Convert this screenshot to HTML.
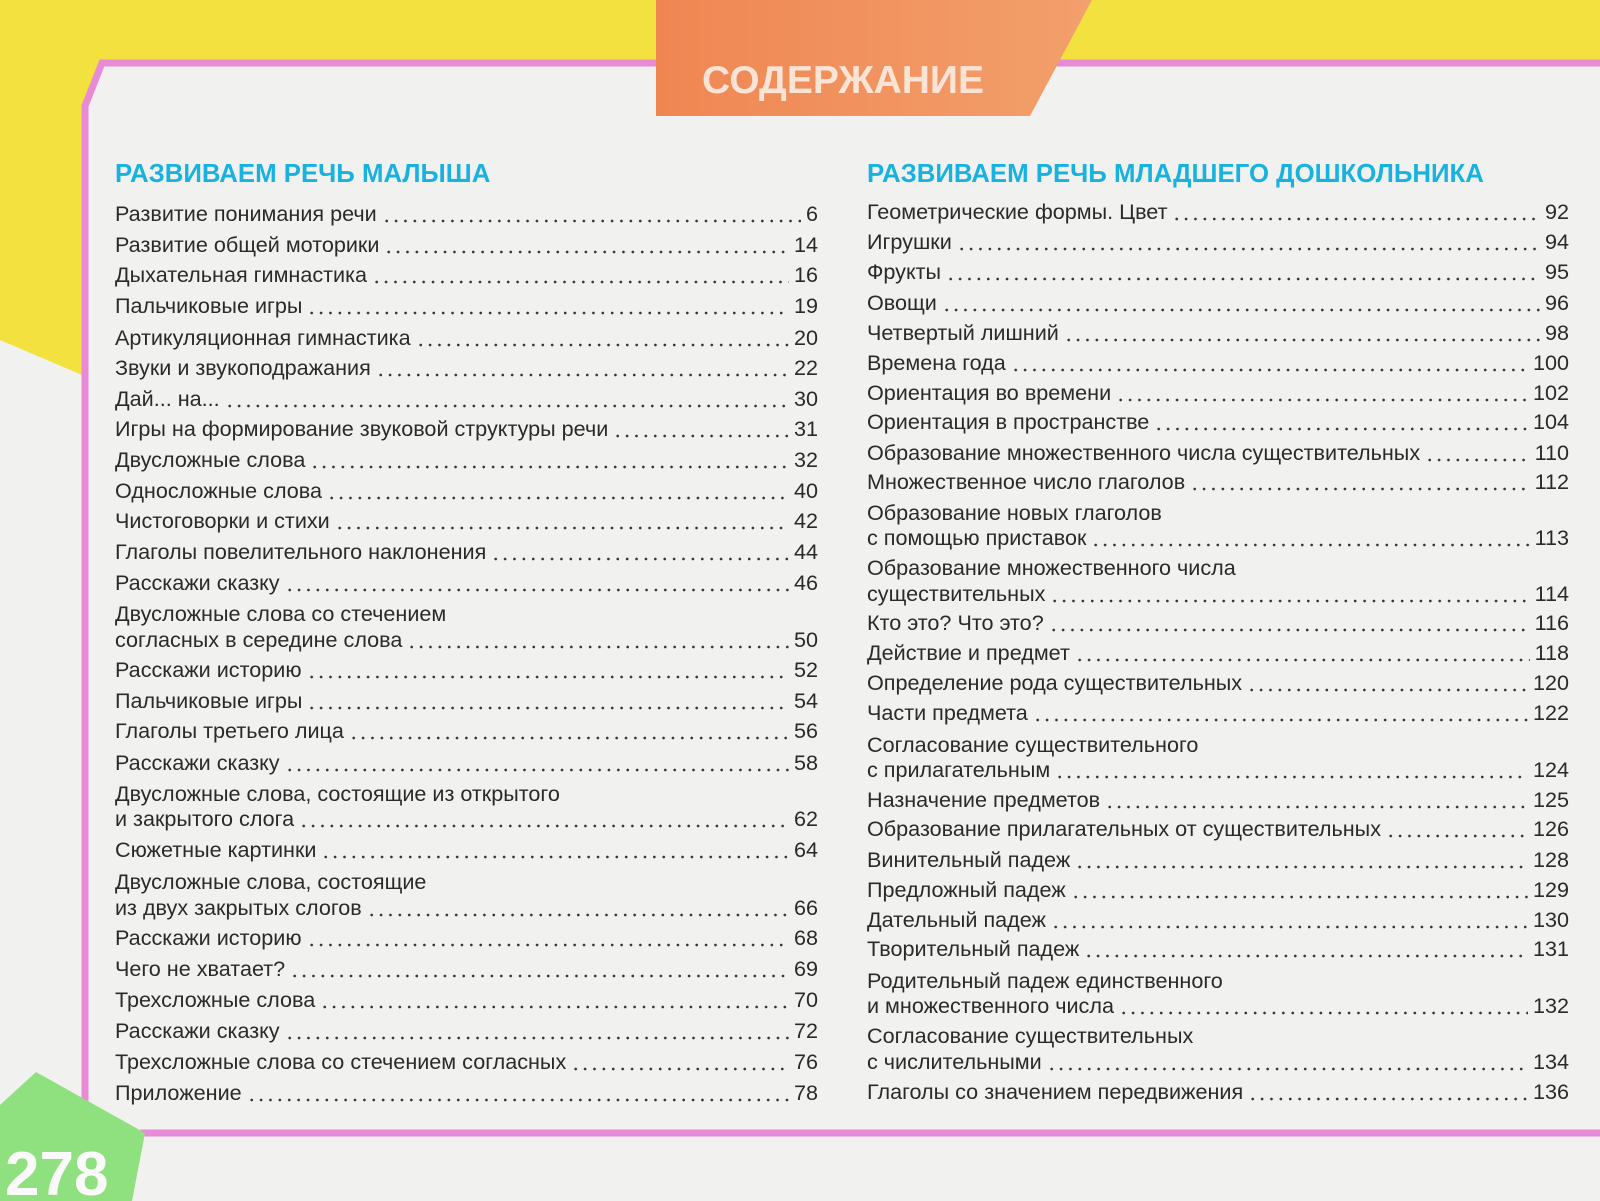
<!DOCTYPE html>
<html><head><meta charset="utf-8"><style>
*{margin:0;padding:0}
body{width:1600px;height:1201px;position:relative;overflow:hidden;background:#f1f1f0;font-family:"Liberation Sans","DejaVu Sans",sans-serif}
.r,.t{position:absolute;height:24px;line-height:24px;font-size:21.6px;color:#2a2a2a;white-space:nowrap}
.r{display:flex}
.L{left:115px;width:703px}
.R{left:867px;width:702px}
.r i{flex:1;margin:0 5px;background-image:radial-gradient(circle,#333 1.1px,transparent 1.6px);background-size:9.4px 4px;background-repeat:repeat-x;background-position:0 17px}
.r b{font-weight:normal}
h2{position:absolute;top:159px;font-size:25.8px;color:#17b2e0;font-weight:bold;white-space:nowrap;line-height:30px}
</style></head><body>
<svg width="1600" height="1201" style="position:absolute;left:0;top:0">
<defs><linearGradient id="o" x1="0" x2="1"><stop offset="0" stop-color="#ef8652"/><stop offset="1" stop-color="#f3a06c"/></linearGradient></defs>
<polygon points="0,0 1600,0 1600,62 102,62 82,108 82,375 0,340" fill="#f2e13e"/>
<polyline points="1600,63 102,63 85,106 85,1132" fill="none" stroke="#e88ad6" stroke-width="7"/>
<line x1="140" y1="1133" x2="1600" y2="1133" stroke="#e88ad6" stroke-width="7"/>
<polygon points="656,0 1092,0 1030,116 656,116" fill="url(#o)"/>
<polygon points="0,1105 36,1072 145,1133 132,1201 0,1201" fill="#8fe07f"/>
<text x="843" y="93" text-anchor="middle" font-family="Liberation Sans" font-weight="bold" font-size="39" fill="#fbe4d6">СОДЕРЖАНИЕ</text>
<text x="5" y="1195" font-family="Liberation Sans" font-weight="bold" font-size="62" fill="#fafafa">278</text>
</svg>
<h2 style="left:115px">РАЗВИВАЕМ РЕЧЬ МАЛЫША</h2>
<h2 style="left:867px">РАЗВИВАЕМ РЕЧЬ МЛАДШЕГО ДОШКОЛЬНИКА</h2>

<div class="r L" style="top:202px">Развитие понимания речи<i></i><b>6</b></div>
<div class="r L" style="top:233px">Развитие общей моторики<i></i><b>14</b></div>
<div class="r L" style="top:263px">Дыхательная гимнастика<i></i><b>16</b></div>
<div class="r L" style="top:294px">Пальчиковые игры<i></i><b>19</b></div>
<div class="r L" style="top:326px">Артикуляционная гимнастика<i></i><b>20</b></div>
<div class="r L" style="top:356px">Звуки и звукоподражания<i></i><b>22</b></div>
<div class="r L" style="top:387px">Дай... на...<i></i><b>30</b></div>
<div class="r L" style="top:417px">Игры на формирование звуковой структуры речи<i></i><b>31</b></div>
<div class="r L" style="top:448px">Двусложные слова<i></i><b>32</b></div>
<div class="r L" style="top:479px">Односложные слова<i></i><b>40</b></div>
<div class="r L" style="top:509px">Чистоговорки и стихи<i></i><b>42</b></div>
<div class="r L" style="top:540px">Глаголы повелительного наклонения<i></i><b>44</b></div>
<div class="r L" style="top:571px">Расскажи сказку<i></i><b>46</b></div>
<div class="t L" style="top:602px">Двусложные слова со стечением</div>
<div class="r L" style="top:628px">согласных в середине слова<i></i><b>50</b></div>
<div class="r L" style="top:658px">Расскажи историю<i></i><b>52</b></div>
<div class="r L" style="top:689px">Пальчиковые игры<i></i><b>54</b></div>
<div class="r L" style="top:719px">Глаголы третьего лица<i></i><b>56</b></div>
<div class="r L" style="top:751px">Расскажи сказку<i></i><b>58</b></div>
<div class="t L" style="top:782px">Двусложные слова, состоящие из открытого</div>
<div class="r L" style="top:807px">и закрытого слога<i></i><b>62</b></div>
<div class="r L" style="top:838px">Сюжетные картинки<i></i><b>64</b></div>
<div class="t L" style="top:870px">Двусложные слова, состоящие</div>
<div class="r L" style="top:896px">из двух закрытых слогов<i></i><b>66</b></div>
<div class="r L" style="top:926px">Расскажи историю<i></i><b>68</b></div>
<div class="r L" style="top:957px">Чего не хватает?<i></i><b>69</b></div>
<div class="r L" style="top:988px">Трехсложные слова<i></i><b>70</b></div>
<div class="r L" style="top:1019px">Расскажи сказку<i></i><b>72</b></div>
<div class="r L" style="top:1050px">Трехсложные слова со стечением согласных<i></i><b>76</b></div>
<div class="r L" style="top:1081px">Приложение<i></i><b>78</b></div>

<div class="r R" style="top:200px">Геометрические формы. Цвет<i></i><b>92</b></div>
<div class="r R" style="top:230px">Игрушки<i></i><b>94</b></div>
<div class="r R" style="top:260px">Фрукты<i></i><b>95</b></div>
<div class="r R" style="top:291px">Овощи<i></i><b>96</b></div>
<div class="r R" style="top:321px">Четвертый лишний<i></i><b>98</b></div>
<div class="r R" style="top:351px">Времена года<i></i><b>100</b></div>
<div class="r R" style="top:381px">Ориентация во времени<i></i><b>102</b></div>
<div class="r R" style="top:410px">Ориентация в пространстве<i></i><b>104</b></div>
<div class="r R" style="top:441px">Образование множественного числа существительных<i></i><b>110</b></div>
<div class="r R" style="top:470px">Множественное число глаголов<i></i><b>112</b></div>
<div class="t R" style="top:501px">Образование новых глаголов</div>
<div class="r R" style="top:526px">с помощью приставок<i></i><b>113</b></div>
<div class="t R" style="top:556px">Образование множественного числа</div>
<div class="r R" style="top:582px">существительных<i></i><b>114</b></div>
<div class="r R" style="top:611px">Кто это? Что это?<i></i><b>116</b></div>
<div class="r R" style="top:641px">Действие и предмет<i></i><b>118</b></div>
<div class="r R" style="top:671px">Определение рода существительных<i></i><b>120</b></div>
<div class="r R" style="top:701px">Части предмета<i></i><b>122</b></div>
<div class="t R" style="top:733px">Согласование существительного</div>
<div class="r R" style="top:758px">с прилагательным<i></i><b>124</b></div>
<div class="r R" style="top:788px">Назначение предметов<i></i><b>125</b></div>
<div class="r R" style="top:817px">Образование прилагательных от существительных<i></i><b>126</b></div>
<div class="r R" style="top:848px">Винительный падеж<i></i><b>128</b></div>
<div class="r R" style="top:878px">Предложный падеж<i></i><b>129</b></div>
<div class="r R" style="top:908px">Дательный падеж<i></i><b>130</b></div>
<div class="r R" style="top:937px">Творительный падеж<i></i><b>131</b></div>
<div class="t R" style="top:969px">Родительный падеж единственного</div>
<div class="r R" style="top:994px">и множественного числа<i></i><b>132</b></div>
<div class="t R" style="top:1024px">Согласование существительных</div>
<div class="r R" style="top:1050px">с числительными<i></i><b>134</b></div>
<div class="r R" style="top:1080px">Глаголы со значением передвижения<i></i><b>136</b></div>
</body></html>
